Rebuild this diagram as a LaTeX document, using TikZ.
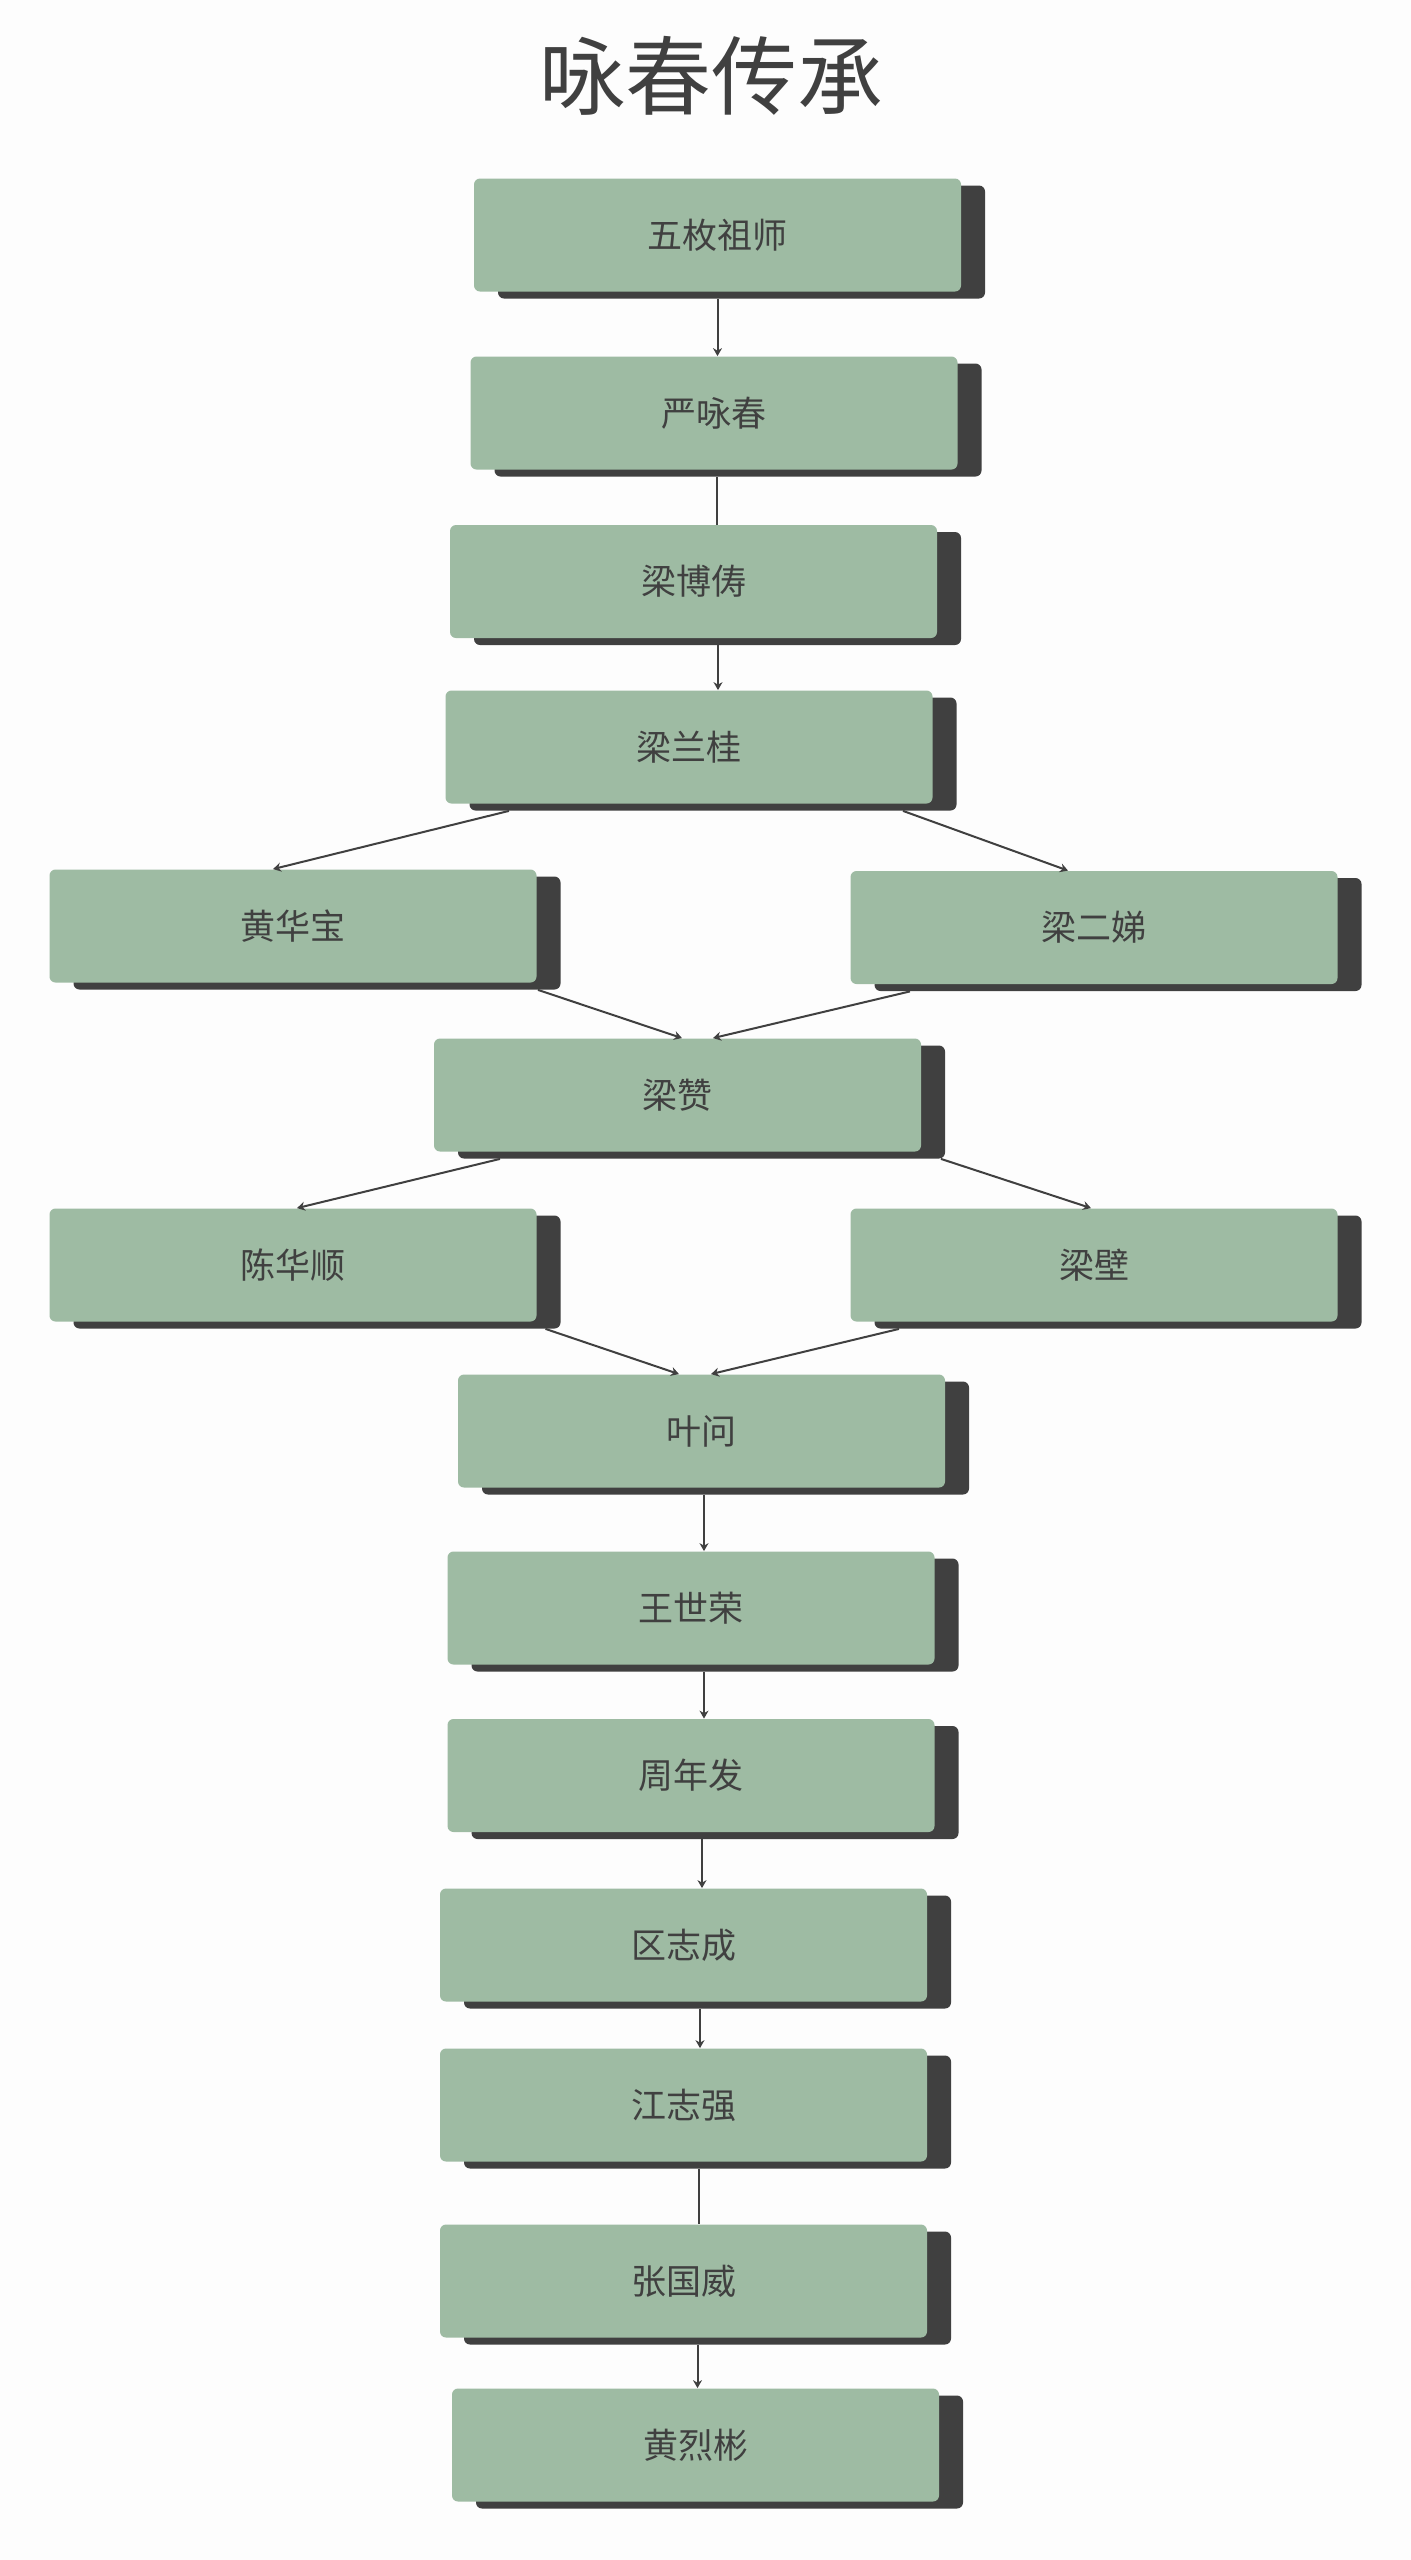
\documentclass[tikz,border=0pt]{standalone}
\usepackage{fontspec}
\setmainfont{Noto Sans CJK SC}
\usetikzlibrary{shadows,calc,arrows.meta}
\definecolor{sage}{HTML}{9EBBA3}
\definecolor{ink}{HTML}{404040}
\definecolor{paper}{HTML}{FDFDFD}

\begin{document}
\begin{tikzpicture}[x=0.5pt, y=0.5pt,
  member/.style={fill=sage, rounded corners=3pt, minimum width=243.5pt, minimum height=56.5pt,
    text=ink, font=\fontsize{17.5pt}{21pt}\selectfont,
    drop shadow={shadow xshift=12pt, shadow yshift=-3.5pt, fill=ink, opacity=1}},
  link/.style={draw=ink, line width=1pt, -{Stealth[length=4pt,width=4.5pt]}},
  linknotip/.style={draw=ink, line width=1pt}]
  \fill[paper] (0,0) rectangle (1411,-2560);
  \node[text=ink, font=\fontsize{43pt}{52pt}\selectfont] (title) at (711,-76) {咏春传承};
  % generations, top to bottom
  \node[member] (wmzs) at (717.5,-235) {五枚祖师};
  \node[member] (ywc) at (714,-413) {严咏春};
  \node[member] (lbc) at (693.5,-581.5) {梁博俦};
  \node[member] (llg) at (689,-747) {梁兰桂};
  \node[member] (hhb) at (293,-926) {黄华宝};
  \node[member] (led) at (1094,-927.5) {梁二娣};
  \node[member] (lz) at (677.5,-1095) {梁赞};
  \node[member] (chs) at (293,-1265) {陈华顺};
  \node[member] (lb) at (1094,-1265) {梁壁};
  \node[member] (yw) at (701.5,-1431) {叶问};
  \node[member] (wsr) at (691,-1608) {王世荣};
  \node[member] (znf) at (691,-1775.5) {周年发};
  \node[member] (qzc) at (683.5,-1945) {区志成};
  \node[member] (jzq) at (683.5,-2105) {江志强};
  \node[member] (zgw) at (683.5,-2281) {张国威};
  \node[member] (hlb) at (695.5,-2445) {黄烈彬};
  % connectors
  \draw[link] ($(wmzs.south)+(0,-7)$) -- ($(ywc.north)+(3.5,0)$);
  \draw[linknotip] ($(ywc.south)+(2.5,-7)$) -- ($(lbc.north)+(23,0)$);
  \draw[link] ($(lbc.south)+(24.5,-7)$) -- ($(llg.north)+(29,0)$);
  \draw[link] ($(llg.south)+(-180,-7)$) -- ($(hhb.north)+(-20,0)$);
  \draw[link] ($(llg.south)+(214,-7)$) -- ($(led.north)+(-26,0)$);
  \draw[link] ($(hhb.south)+(245,-7)$) -- ($(lz.north)+(4.5,0)$);
  \draw[link] ($(led.south)+(-184,-7)$) -- ($(lz.north)+(35.5,0)$);
  \draw[link] ($(lz.south)+(-177.5,-7)$) -- ($(chs.north)+(4,0)$);
  \draw[link] ($(lz.south)+(263.5,-7)$) -- ($(lb.north)+(-3,0)$);
  \draw[link] ($(chs.south)+(252.5,-7)$) -- ($(yw.north)+(-22.5,0)$);
  \draw[link] ($(lb.south)+(-195,-7)$) -- ($(yw.north)+(9.5,0)$);
  \draw[link] ($(yw.south)+(2.5,-7)$) -- ($(wsr.north)+(13,0)$);
  \draw[link] ($(wsr.south)+(13,-7)$) -- ($(znf.north)+(13,0)$);
  \draw[link] ($(znf.south)+(11,-7)$) -- ($(qzc.north)+(18.5,0)$);
  \draw[link] ($(qzc.south)+(16.5,-7)$) -- ($(jzq.north)+(16.5,0)$);
  \draw[linknotip] ($(jzq.south)+(15.5,-7)$) -- ($(zgw.north)+(15.5,0)$);
  \draw[link] ($(zgw.south)+(14,-7)$) -- ($(hlb.north)+(2,0)$);
\end{tikzpicture}
\end{document}
